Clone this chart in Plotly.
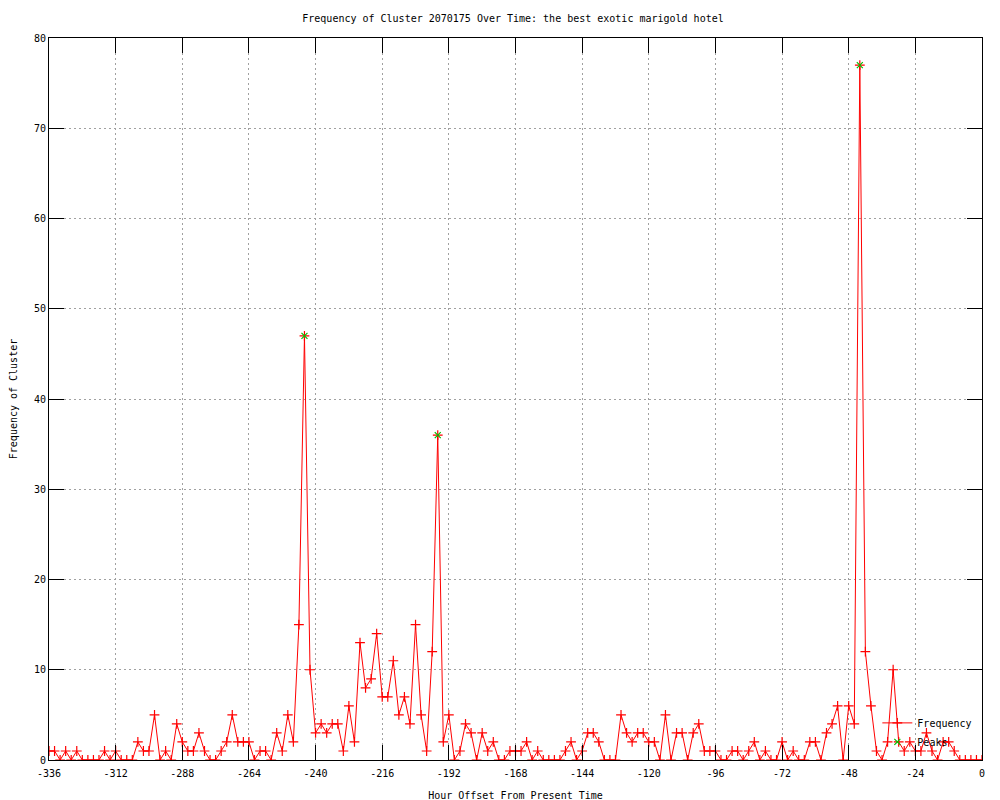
import plotly.graph_objects as go

# Hour offsets (x) sampled every 2 hours, from -336 up to 0
hours = [
    -336, -334, -332, -330, -328, -326, -324, -322, -320, -318, -316, -314,
    -312, -310, -308, -306, -304, -302, -300, -298, -296, -294, -292, -290,
    -288, -286, -284, -282, -280, -278, -276, -274, -272, -270, -268, -266,
    -264, -262, -260, -258, -256, -254, -252, -250, -248, -246, -244, -242,
    -240, -238, -236, -234, -232, -230, -228, -226, -224, -222, -220, -218,
    -216, -214, -212, -210, -208, -206, -204, -202, -200, -198, -196, -194,
    -192, -190, -188, -186, -184, -182, -180, -178, -176, -174, -172, -170,
    -168, -166, -164, -162, -160, -158, -156, -154, -152, -150, -148, -146,
    -144, -142, -140, -138, -136, -134, -132, -130, -128, -126, -124, -122,
    -120, -118, -116, -114, -112, -110, -108, -106, -104, -102, -100, -98,
    -96, -94, -92, -90, -88, -86, -84, -82, -80, -78, -76, -74,
    -72, -70, -68, -66, -64, -62, -60, -58, -56, -54, -52, -50,
    -48, -46, -44, -42, -40, -38, -36, -34, -32, -30, -28, -26,
    -24, -22, -20, -18, -16, -14, -12, -10, -8, -6, -4, -2,
    0,
]

# Cluster frequency at each hour offset
frequency = [
    1, 1, 0, 1, 0, 1, 0, 0, 0, 0, 1, 0,
    1, 0, 0, 0, 2, 1, 1, 5, 0, 1, 0, 4,
    2, 1, 1, 3, 1, 0, 0, 1, 2, 5, 2, 2,
    2, 0, 1, 1, 0, 3, 1, 5, 2, 15, 47, 10,
    3, 4, 3, 4, 4, 1, 6, 2, 13, 8, 9, 14,
    7, 7, 11, 5, 7, 4, 15, 5, 1, 12, 36, 2,
    5, 0, 1, 4, 3, 0, 3, 1, 2, 0, 0, 1,
    1, 1, 2, 0, 1, 0, 0, 0, 0, 1, 2, 0,
    1, 3, 3, 2, 0, 0, 0, 5, 3, 2, 3, 3,
    2, 2, 0, 5, 0, 3, 3, 0, 3, 4, 1, 1,
    1, 0, 0, 1, 1, 0, 1, 2, 0, 1, 0, 0,
    2, 0, 1, 0, 0, 2, 2, 0, 3, 4, 6, 0,
    6, 4, 77, 12, 6, 1, 0, 2, 10, 2, 1, 2,
    1, 1, 3, 1, 0, 2, 2, 1, 0, 0, 0, 0,
    0,
]

# Detected peaks
peak_hours = [-244, -196, -44]
peak_values = [47, 36, 77]

x_ticks = [-336, -312, -288, -264, -240, -216, -192, -168, -144, -120, -96, -72, -48, -24, 0]
y_ticks = [0, 10, 20, 30, 40, 50, 60, 70, 80]

FONT = "DejaVu Sans Mono"

fig = go.Figure()

fig.add_trace(go.Scatter(
    x=hours, y=frequency, name="Frequency", mode="lines+markers",
    line=dict(color="#ff0000", width=1),
    marker=dict(symbol="cross-thin", size=7, line=dict(color="#ff0000", width=1.2)),
))
fig.add_trace(go.Scatter(
    x=peak_hours, y=peak_values, name="Peaks", mode="markers",
    marker=dict(symbol="x-thin", size=6, line=dict(color="#00c000", width=1.2)),
))

axis_style = dict(
    showline=True, linecolor="black", linewidth=1, mirror="allticks",
    ticks="inside", ticklen=15, tickcolor="black", tickwidth=1,
    showgrid=True, gridcolor="#a0a0a0", gridwidth=1, griddash="2px,3px",
    zeroline=False, tickfont=dict(family=FONT, size=10, color="black"),
    automargin=False,
)

fig.update_xaxes(
    range=[-336, 0], tickvals=x_ticks, ticktext=[str(v) for v in x_ticks],
    ticklabelstandoff=4,
    title=dict(text="Hour Offset From Present Time", font=dict(family=FONT, size=10, color="black"), standoff=13),
    **axis_style,
)
fig.update_yaxes(
    range=[0, 80], tickvals=y_ticks, ticktext=[str(v) for v in y_ticks],
    title=dict(text="Frequency of Cluster", font=dict(family=FONT, size=10, color="black"), standoff=14),
    **axis_style,
)

# page body has an 8px margin, so the figure margins are shifted to compensate
fig.update_layout(
    width=1000, height=800,
    margin=dict(l=41, r=26, t=30, b=48),
    paper_bgcolor="white", plot_bgcolor="white",
    title=dict(
        text="Frequency of Cluster 2070175 Over Time: the best exotic marigold hotel",
        font=dict(family=FONT, size=10, color="black"),
        x=0.505, xanchor="center", y=0.9875, yanchor="middle",
    ),
    font=dict(family=FONT, size=10, color="black"),
    legend=dict(
        x=0.995, y=0.005, xanchor="right", yanchor="bottom",
        bgcolor="rgba(0,0,0,0)", font=dict(family=FONT, size=10),
        tracegroupgap=0, itemwidth=30,
    ),
    showlegend=True,
)

fig.write_html("out.html")
